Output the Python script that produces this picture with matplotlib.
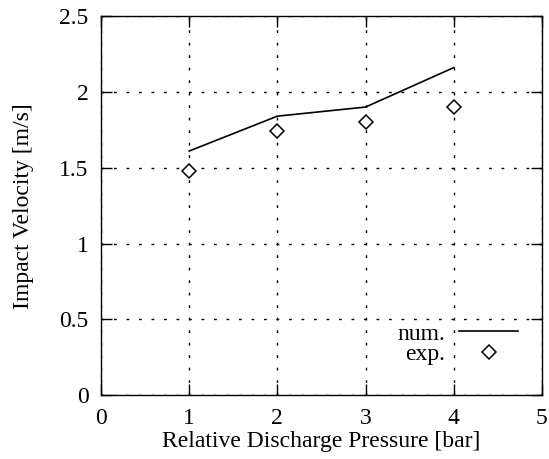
import matplotlib
matplotlib.use("Agg")
import matplotlib.pyplot as plt

pressure = [1, 2, 3, 4]
num_velocity = [1.61, 1.84, 1.90, 2.16]
exp_velocity = [1.48, 1.74, 1.80, 1.90]
xticks = [0, 1, 2, 3, 4, 5]
yticks = [0, 0.5, 1, 1.5, 2, 2.5]
ytick_labels = ["0", "0.5", "1", "1.5", "2", "2.5"]

plt.rcParams['font.family'] = ['Liberation Serif', 'DejaVu Serif']

FS = 17
fig = plt.figure(figsize=(5.49, 4.59), dpi=100)
ax = fig.add_axes([0.184, 0.139, 0.803, 0.826])

ax.plot(pressure, num_velocity, color='black', lw=1.2, label='num.')
ax.plot(pressure, exp_velocity, linestyle='none', marker='D', ms=7,
        mfc='white', mec='black', mew=1.1, label='exp.')

ax.set_xlim(0, 5)
ax.set_ylim(0, 2.5)
ax.set_xticks(xticks)
ax.set_xticklabels([str(t) for t in xticks])
ax.set_yticks(yticks)
ax.set_yticklabels(ytick_labels)
ax.tick_params(direction='in', length=8, width=1, top=True, right=True,
               labelsize=FS, pad=9)
ax.grid(True, linestyle=(0, (2, 7)), color='black', lw=1)
for s in ax.spines.values():
    s.set_linewidth(1)

ax.set_xlabel('Relative Discharge Pressure [bar]', fontsize=FS, labelpad=2)
ax.set_ylabel('Impact Velocity [m/s]', fontsize=FS, labelpad=18)

leg = ax.legend(loc='lower right', bbox_to_anchor=(0.946, 0.08), frameon=False,
                markerfirst=False, fontsize=FS, handlelength=2.5,
                handletextpad=0.6, labelspacing=-0.05, borderaxespad=0,
                borderpad=0)
for t in leg.get_texts():
    t.set_ha('right')

fig.savefig('out.png', dpi=100)
